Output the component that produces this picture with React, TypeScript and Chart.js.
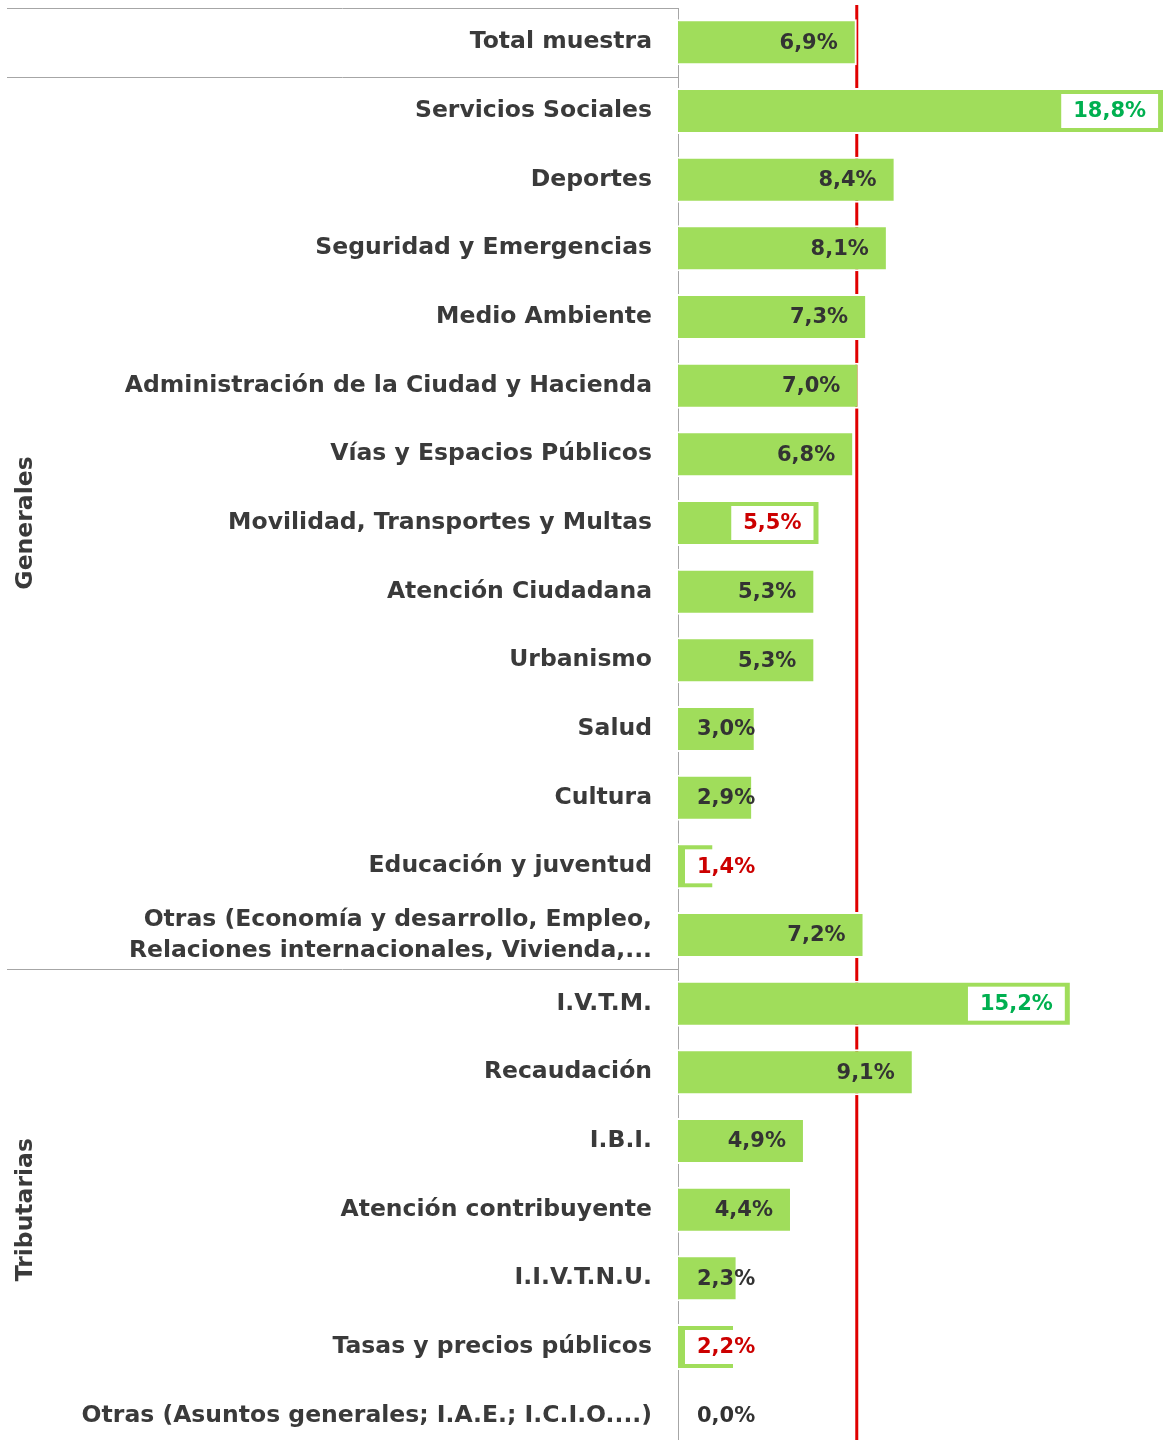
import { useEffect, useRef } from 'react';
import { Chart, registerables } from 'chart.js';

Chart.register(...registerables);

const categories: (string | string[])[] = [
  'Total muestra',
  'Servicios Sociales',
  'Deportes',
  'Seguridad y Emergencias',
  'Medio Ambiente',
  'Administración de la Ciudad y Hacienda',
  'Vías y Espacios Públicos',
  'Movilidad, Transportes y Multas',
  'Atención Ciudadana',
  'Urbanismo',
  'Salud',
  'Cultura',
  'Educación y juventud',
  ['Otras (Economía y desarrollo, Empleo,', 'Relaciones internacionales, Vivienda,...'],
  'I.V.T.M.',
  'Recaudación',
  'I.B.I.',
  'Atención contribuyente',
  'I.I.V.T.N.U.',
  'Tasas y precios públicos',
  'Otras (Asuntos generales; I.A.E.; I.C.I.O....)',
];

const values = [6.9, 18.8, 8.4, 8.1, 7.3, 7.0, 6.8, 5.5, 5.3, 5.3, 3.0, 2.9, 1.4, 7.2, 15.2, 9.1, 4.9, 4.4, 2.3, 2.2, 0.0];

// 'plain' | 'high' (green boxed) | 'low' (red boxed)
const labelStyles = [
  'plain', 'high', 'plain', 'plain', 'plain', 'plain', 'plain', 'low', 'plain', 'plain',
  'plain', 'plain', 'low', 'plain', 'high', 'plain', 'plain', 'plain', 'plain', 'low', 'plain',
];

const referenceValue = 6.9;

const groupNames = ['Generales', 'Tributarias'];
const groupStart = [1, 14];
const groupEnd = [13, 20];

const FONT = '"DejaVu Sans", Verdana, sans-serif';

export default function App() {
  const ref = useRef<HTMLCanvasElement>(null);

  useEffect(() => {
    const canvas = ref.current;
    if (!canvas) return;

    const decor = {
      id: 'decor',
      beforeDatasetsDraw(chart: any) {
        const { ctx, chartArea } = chart;
        const xs = chart.scales.x;
        const ys = chart.scales.y;
        ctx.save();
        // reference line (total sample)
        const rx = xs.getPixelForValue(referenceValue);
        ctx.strokeStyle = '#e00000';
        ctx.lineWidth = 3;
        ctx.beginPath();
        ctx.moveTo(rx, chartArea.top - 3);
        ctx.lineTo(rx, chart.height);
        ctx.stroke();
        // separators
        const rowH = ys.getPixelForValue(1) - ys.getPixelForValue(0);
        const seps = [chartArea.top, ys.getPixelForValue(0) + rowH / 2, ys.getPixelForValue(groupEnd[0]) + rowH / 2];
        ctx.strokeStyle = '#a6a6a6';
        ctx.lineWidth = 1;
        for (const y of seps) {
          const yy = Math.round(y) + 0.5;
          ctx.beginPath();
          ctx.moveTo(7, yy);
          ctx.lineTo(chartArea.left, yy);
          ctx.stroke();
        }
        // group labels
        ctx.fillStyle = '#3a3a3a';
        ctx.font = `bold 23.5px ${FONT}`;
        ctx.textAlign = 'center';
        ctx.textBaseline = 'middle';
        groupNames.forEach((name, g) => {
          const mid = (ys.getPixelForValue(groupStart[g]) + ys.getPixelForValue(groupEnd[g])) / 2;
          ctx.save();
          ctx.translate(26, mid);
          ctx.rotate(-Math.PI / 2);
          ctx.fillText(name, 0, 0);
          ctx.restore();
        });
        ctx.restore();
      },
      afterDatasetsDraw(chart: any) {
        const { ctx } = chart;
        const meta = chart.getDatasetMeta(0);
        ctx.save();
        ctx.font = `bold 21px ${FONT}`;
        ctx.textBaseline = 'middle';
        ctx.textAlign = 'left';
        meta.data.forEach((bar: any, i: number) => {
          const p = bar.getProps(['x', 'y', 'base', 'height'], true);
          const text = values[i].toFixed(1).replace('.', ',') + '%';
          const w = ctx.measureText(text).width;
          const left = Math.max(p.x - 19 - w, p.base + 19);
          const style = labelStyles[i];
          if (style !== 'plain') {
            ctx.fillStyle = '#ffffff';
            ctx.fillRect(left - 12, p.y - p.height / 2 + 6, w + 24, p.height - 12);
          }
          ctx.fillStyle = style === 'high' ? '#00b050' : style === 'low' ? '#cc0000' : '#333333';
          ctx.fillText(text, left, p.y + 1);
        });
        ctx.restore();
      },
    };

    const chart = new Chart(canvas, {
      type: 'bar',
      data: {
        labels: categories,
        datasets: [
          {
            data: values,
            backgroundColor: '#a0dd5b',
            borderColor: '#ffffff',
            borderWidth: 2,
            borderSkipped: 'start',
            barPercentage: 0.67,
            categoryPercentage: 1,
          },
        ],
      },
      options: {
        indexAxis: 'y',
        responsive: false,
        animation: false,
        devicePixelRatio: 1,
        layout: { padding: { top: 8, left: 0, right: 0, bottom: 0 } },
        plugins: { legend: { display: false }, tooltip: { enabled: false } },
        scales: {
          x: { display: false, min: 0, max: 18.72 },
          y: {
            afterFit: (s: any) => {
              s.width = 678;
              s.paddingTop = 0;
              s.paddingBottom = 0;
            },
            grid: { display: false, drawTicks: false },
            border: { display: true, color: '#a6a6a6', width: 1 },
            ticks: {
              autoSkip: false,
              padding: 26,
              color: '#3a3a3a',
              font: { family: FONT, size: 23.5, weight: 'bold', lineHeight: 1.32 },
            },
          },
        },
      },
      plugins: [decor],
    } as any);

    return () => chart.destroy();
  }, []);

  return (
    <div style={{ position: 'absolute', left: 0, top: 0, width: 1163, height: 1440, overflow: 'hidden', background: '#fff' }}>
      <canvas ref={ref} width={1163} height={1450} style={{ display: 'block', width: 1163, height: 1450 }} />
    </div>
  );
}
